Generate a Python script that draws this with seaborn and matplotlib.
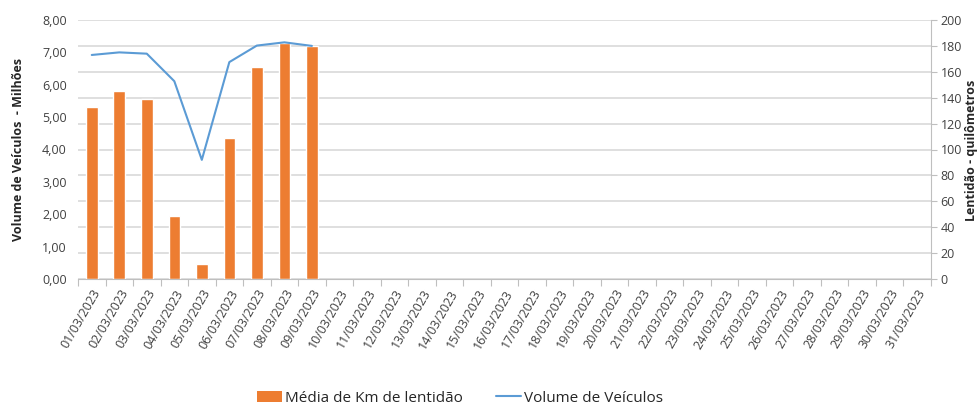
import numpy as np
import pandas as pd
import matplotlib
matplotlib.use("Agg")
import matplotlib.pyplot as plt
import seaborn as sns
from matplotlib.patches import Patch
from matplotlib.lines import Line2D
from matplotlib.ticker import FixedLocator, FuncFormatter

dates = [f"{d:02d}/03/2023" for d in range(1, 32)]
km_lentidao = [133, 145, 139, 48.6, 11.6, 109, 164, 182.5, 180]
volume_milhoes = [6.92, 7.00, 6.96, 6.11, 3.68, 6.70, 7.21, 7.31, 7.20]

sns.set_theme(style="white")
plt.rcParams['font.family'] = ['Open Sans', 'DejaVu Sans']

bar_color = "#ED7D31"
line_color = "#5B9BD5"
grid_color = "#D9D9D9"

fig = plt.figure(figsize=(9.79, 4.09), dpi=100)
axb = fig.add_axes([78/979, 1-279/409, (931-78)/979, (279-20)/409])

df_bar = pd.DataFrame({"data": dates[:len(km_lentidao)], "km": km_lentidao})
sns.barplot(data=df_bar, x="data", y="km", order=dates, color=bar_color,
            saturation=1, width=0.42, ax=axb, zorder=2)
axb.set_ylim(0, 200)
axb.set_xlim(-0.5, len(dates)-0.5)
axb.set_ylabel("")
axb.set_xlabel("")

axl = axb.twinx()
# twinx moves the original ticks to the left; swap them back
axb.yaxis.tick_right()
axb.yaxis.set_label_position("right")
axl.yaxis.tick_left()
axl.yaxis.set_label_position("left")

axb.set_yticks(np.arange(0, 201, 20))
axb.tick_params(axis="y", labelcolor="#404040", color="#BFBFBF", labelsize=9,
                length=4, width=0.8, pad=3, left=False, right=True,
                labelleft=False, labelright=True)

sns.lineplot(x=np.arange(len(volume_milhoes)), y=volume_milhoes, color=line_color,
             linewidth=1.5, ax=axl, zorder=3)
axl.set_ylim(0, 8)
axl.set_yticks(np.arange(0, 8.01, 1))
axl.yaxis.set_major_formatter(FuncFormatter(lambda v, p: f"{v:.2f}".replace(".", ",")))
axl.tick_params(axis="y", labelcolor="#404040", labelsize=9, length=0, pad=8,
                left=False, right=False, labelleft=True, labelright=False)
axl.set_ylabel("Volume de Veículos  - Milhões", fontsize=9, fontweight="bold",
               color="#262626", labelpad=12)
axl.set_xlim(-0.5, len(dates)-0.5)

# grid
axb.yaxis.grid(True, color=grid_color, linewidth=1.2)
axb.set_axisbelow(True)

for ax in (axb, axl):
    for s in ("top", "left"):
        ax.spines[s].set_visible(False)
axl.spines["right"].set_visible(False)
axl.spines["bottom"].set_visible(False)
axb.spines["right"].set_color("#BFBFBF")
axb.spines["right"].set_linewidth(0.8)
axb.spines["bottom"].set_color("#BFBFBF")
axb.spines["bottom"].set_linewidth(0.8)

# x ticks
axb.set_xticks(np.arange(len(dates)))
axb.set_xticklabels(dates, rotation=60, ha="right", rotation_mode="anchor",
                    fontsize=9, color="#404040")
axb.xaxis.set_minor_locator(FixedLocator(np.arange(-0.5, len(dates), 1)))
axb.tick_params(axis="x", which="major", length=0, pad=6, bottom=True)
axb.tick_params(axis="x", which="minor", length=5, width=0.8, color="#BFBFBF", bottom=True)

fig.text(972/979, 1-150/409, "Lentidão - quilômetros", rotation=90, ha="center",
         va="center", fontsize=9, fontweight="bold", color="#262626")

handles = [Patch(facecolor=bar_color, edgecolor="none"),
           Line2D([0], [0], color=line_color, linewidth=1.5)]
fig.legend(handles, ["Média de Km de lentidão", "Volume de Veículos"],
           loc="center", bbox_to_anchor=(460/979, 1-398/409), ncol=2, frameon=False,
           fontsize=11, handlelength=1.6, handletextpad=0.2, columnspacing=2.2,
           labelcolor="#262626")

fig.savefig("out.png", dpi=100)
